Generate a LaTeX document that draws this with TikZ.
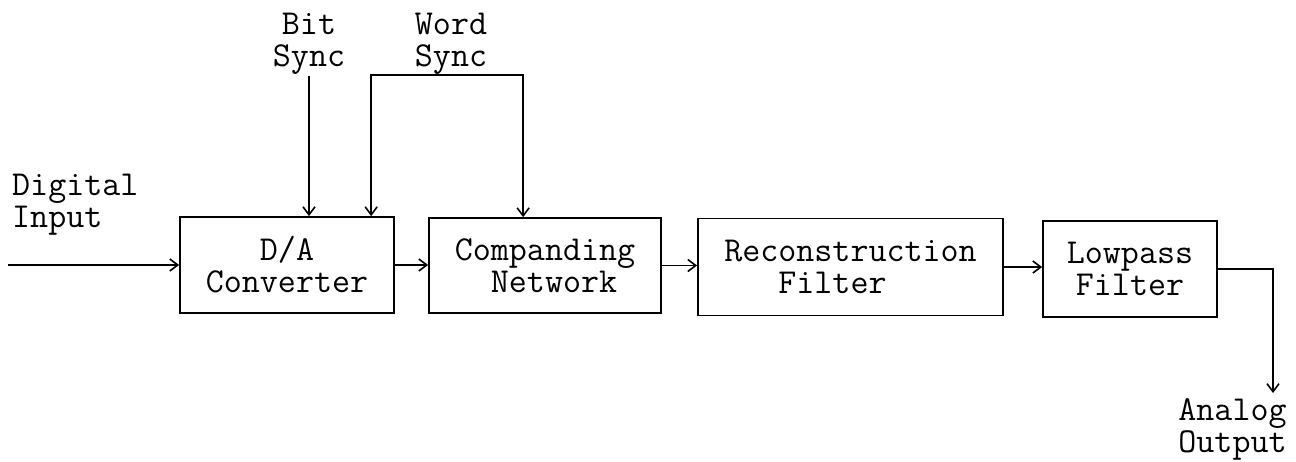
\documentclass[tikz,border=0pt]{standalone}
\usetikzlibrary{arrows.meta}
\begin{document}
\begin{tikzpicture}[x=1pt,y=-1pt,
  txt/.style={font=\ttfamily\fontsize{35}{32}\selectfont},
  blk/.style={draw,line width=1.7pt,inner sep=0pt,align=center,txt},
  lbl/.style={inner sep=0pt,txt},
  conn/.style={line width=1.7pt,-{Straight Barb[length=8pt,width=12pt,line width=1.6pt]}},
  dconn/.style={line width=1.7pt,{Straight Barb[length=8pt,width=12pt,line width=1.6pt]}-{Straight Barb[length=8pt,width=12pt,line width=1.6pt]}}]
\useasboundingbox (0,0) rectangle (1296,461);
% blocks
\node[blk,minimum width=214pt,minimum height=96pt] (da) at (287,265) {D/A\\Converter};
\node[blk,minimum width=232pt,minimum height=95pt,align=left] (cn) at (545,265.5) {Companding\\\phantom{Co}Network};
\node[blk,minimum width=305pt,minimum height=97pt,align=left] (rf) at (850.5,267) {Reconstruction\\\phantom{Rec}Filter};
\node[blk,minimum width=174pt,minimum height=96pt] (lp) at (1130,269) {Lowpass\\Filter};
% labels
\node[lbl,align=left,anchor=west] (din) at (12,204.5) {Digital\\Input};
\node[lbl,align=center] (bit) at (309,43.5) {Bit\\Sync};
\node[lbl,align=center] (word) at (451,43.5) {Word\\Sync};
\node[lbl,align=center] (aout) at (1232.5,429) {Analog\\Output};
% connector ends
\coordinate (inp) at (8,265);
\coordinate (bs) at (309,76);
\coordinate (ws) at (448,75);
\coordinate (outp) at (1273,393);
% connectors
\draw[conn] (inp) -- (inp -| da.west);
\draw[conn] (bs) -- (bs |- da.north);
\draw[dconn] ([xshift=192pt]da.north west) |- (ws) -| ([xshift=95pt]cn.north west);
\draw[conn] (da.east) -- (da.east -| cn.west);
\draw[conn] (cn.east) -- (cn.east -| rf.west);
\draw[conn] (rf.east) -- (rf.east -| lp.west);
\draw[conn] (lp.east) -| (outp);
\end{tikzpicture}
\end{document}
